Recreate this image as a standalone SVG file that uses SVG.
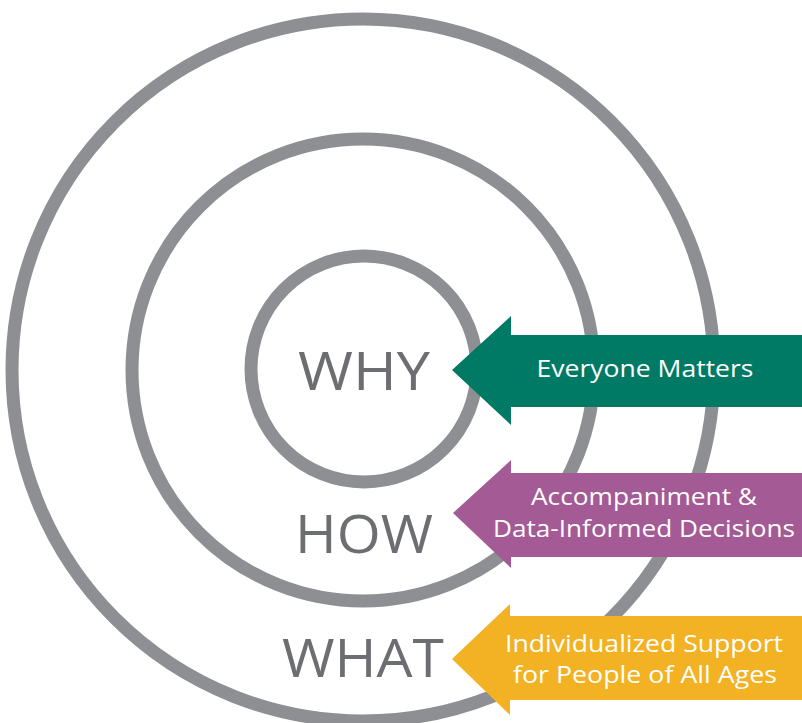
<svg xmlns="http://www.w3.org/2000/svg" width="802" height="723" viewBox="0 0 802 723">
<style>
.ring{fill:none;stroke:#8e8f93;stroke-width:13}
.big{font-family:"Open Sans","Noto Sans",sans-serif;font-size:53px;fill:#6d6e71}
.lbl{font-family:"Open Sans","Noto Sans",sans-serif;font-size:23px;fill:#ffffff;text-anchor:middle}
</style>
<rect width="802" height="723" fill="#ffffff"/>
<g id="rings">
<circle id="outer" class="ring" cx="363" cy="370" r="351"/>
<circle id="middle" class="ring" cx="363" cy="370" r="231"/>
<circle id="inner" class="ring" cx="364" cy="369" r="113"/>
</g>
<g id="labels-big">
<text id="why" class="big" x="298" y="390" textLength="132" lengthAdjust="spacingAndGlyphs">WHY</text>
<text id="how" class="big" x="295" y="553" textLength="138" lengthAdjust="spacingAndGlyphs">HOW</text>
<text id="what" class="big" x="282" y="677" textLength="162" lengthAdjust="spacingAndGlyphs">WHAT</text>
</g>
<g id="connectors">
<g id="arrow-why">
<polygon fill="#007a64" points="452,370 511,316 511,335 802,335 802,407 511,407 511,425"/>
<text class="lbl" x="645" y="377" textLength="217" lengthAdjust="spacingAndGlyphs">Everyone Matters</text>
</g>
<g id="arrow-how">
<polygon fill="#a45a95" points="453,513 511,460 511,473 802,473 802,557 511,557 511,568"/>
<text class="lbl" x="644" y="505" textLength="226" lengthAdjust="spacingAndGlyphs">Accompaniment &amp;</text>
<text class="lbl" x="644" y="537" textLength="302" lengthAdjust="spacingAndGlyphs">Data-Informed Decisions</text>
</g>
<g id="arrow-what">
<polygon fill="#f2b224" points="452,659 510,604 510,616 802,616 802,700 510,700 510,715"/>
<text class="lbl" x="644" y="652" textLength="278" lengthAdjust="spacingAndGlyphs">Individualized Support</text>
<text class="lbl" x="645" y="683" textLength="264" lengthAdjust="spacingAndGlyphs">for People of All Ages</text>
</g>
</g>
</svg>
